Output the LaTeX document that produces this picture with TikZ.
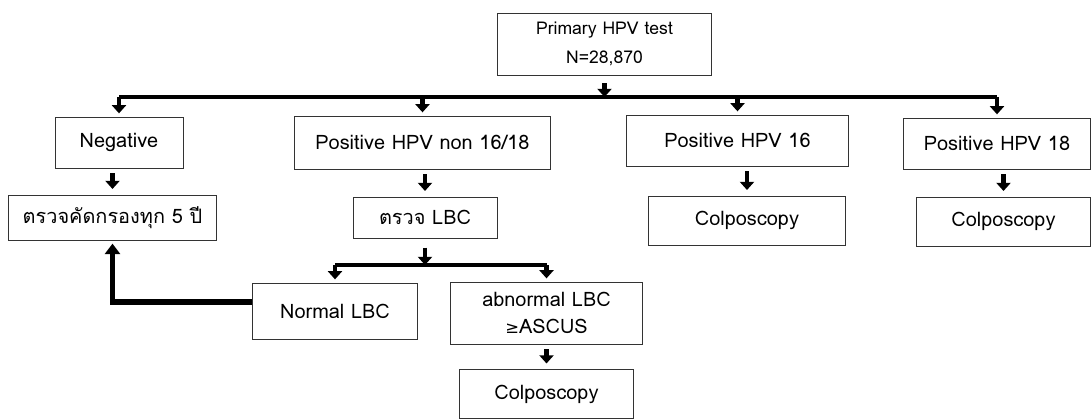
\documentclass[tikz,border=0pt]{standalone}
\usepackage{fontspec}
\setmainfont{Loma}[Script=Thai]
\newfontfamily\symfont{DejaVu Sans}
\usetikzlibrary{arrows.meta}

\begin{document}
\begin{tikzpicture}
    [x=0.03cm,y=-0.03cm,
     box/.style 2 args={shape=rectangle,draw=black!80,thin,align=center,inner sep=0pt,
       minimum width=#1*0.8504pt,minimum height=#2*0.8504pt,font=\fontsize{17}{20}\selectfont},
     pre/.style={<-,>={Triangle[width=12pt,length=7pt]},line width=4pt,shorten <=5pt,shorten >=4pt},
     down/.style={-{Triangle[width=12pt,length=7pt]},line width=4pt},
     bus/.style={line width=4pt}]
    \useasboundingbox (0,0) rectangle (1092,419);
    \node [box={215}{62},font=\fontsize{15}{24}\selectfont] (prim) at (604.5,44) {Primary HPV test\\N=28,870};
    \coordinate (bus) at (0,97);
    \coordinate (bus2) at (0,265);
    % first row
    \node [box={128}{51}] (neg) at (119,142.5) {Negative};
    \node [box={257}{53}] (non) at (422.5,142.5) {Positive HPV non 16/18};
    \node [box={223}{51}] (p16) at (737.5,140.5) {Positive HPV 16};
    \node [box={188}{51}] (p18) at (997,143.5) {Positive HPV 18};
    % second row
    \node [box={209}{45}] (scr) at (112.5,217.5) {ตรวจคัดกรองทุก 5 ปี}
      edge [pre] (neg.south -| scr);
    \node [box={144}{41}] (lbc) at (425,217.5) {ตรวจ LBC}
      edge [pre] (non.south -| lbc);
    \node [box={198}{49}] (col16) at (747,220.5) {Colposcopy}
      edge [pre] (p16.south -| col16);
    \node [box={175}{49}] (col18) at (1003.5,221.5) {Colposcopy}
      edge [pre] (p18.south -| col18);
    % LBC results
    \node [box={166}{56}] (nor) at (335,311) {Normal LBC};
    \node [box={193}{62}] (abn) at (546.5,313)
      {abnormal LBC\\[3pt]{\symfont\fontsize{14}{16}\selectfont ≥}ASCUS};
    \node [box={175}{49}] (colA) at (546.5,394) {Colposcopy}
      edge [pre] (abn);
    % buses
    \draw [down,shorten <=7pt] (prim) -- (prim |- bus);
    \draw [bus] (bus -| neg) -- (bus -| p18);
    \foreach \n in {neg,non,p16,p18}
      \draw [down,shorten >=3pt] (bus -| \n) -- (\n);
    \draw [down,shorten <=8pt] (lbc) -- (lbc |- bus2);
    \draw [bus] (bus2 -| nor) -- (bus2 -| abn);
    \foreach \n in {nor,abn}
      \draw [down,shorten >=3pt] (bus2 -| \n) -- (\n);
    % back to screening
    \draw [-{Triangle[width=13pt,length=9pt]},line width=5pt,shorten >=3pt]
      ([yshift=8pt]nor.west) -| (scr);
\end{tikzpicture}
\end{document}
